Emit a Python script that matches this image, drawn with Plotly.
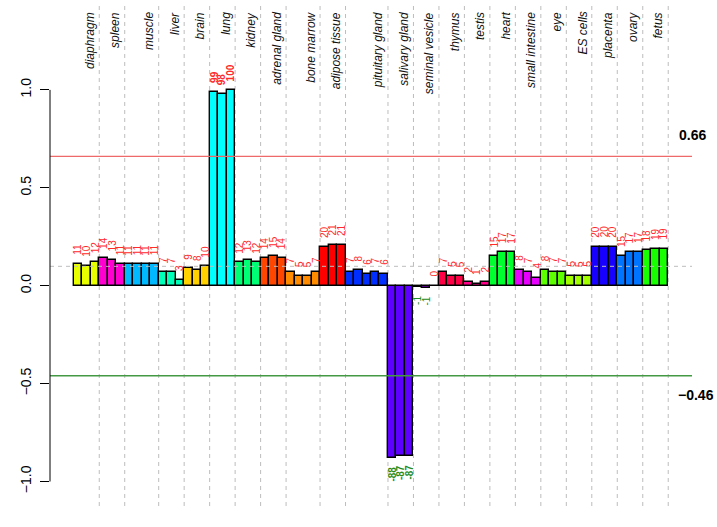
import plotly.graph_objects as go

tissues = ["diaphragm", "spleen", "muscle", "liver", "brain", "lung", "kidney",
           "adrenal gland", "bone marrow", "adipose tissue", "pituitary gland",
           "salivary gland", "seminal vesicle", "thymus", "testis", "heart",
           "small intestine", "eye", "ES cells", "placenta", "ovary", "fetus"]

tissue_values = [
    [0.11, 0.10, 0.12],
    [0.14, 0.13, 0.11],
    [0.11, 0.11, 0.11, 0.11],
    [0.07, 0.07, 0.03],
    [0.09, 0.08, 0.10],
    [0.99, 0.98, 1.00],
    [0.12, 0.13, 0.12],
    [0.14, 0.15, 0.14],
    [0.07, 0.05, 0.05, 0.07],
    [0.20, 0.21, 0.21],
    [0.07, 0.08, 0.06, 0.07, 0.06],
    [-0.88, -0.87, -0.87],
    [-0.006, -0.012, 0.0],
    [0.07, 0.05, 0.05],
    [0.02, 0.01, 0.02],
    [0.15, 0.17, 0.17],
    [0.08, 0.07, 0.04],
    [0.08, 0.07, 0.07],
    [0.05, 0.05, 0.05],
    [0.20, 0.20, 0.20],
    [0.15, 0.17, 0.17],
    [0.18, 0.19, 0.19],
]

tissue_colors = ["#E8FF00", "#FF00D1", "#00B9FF", "#00FFB9", "#FFD100", "#00FFFF",
                 "#00FF74", "#FF4600", "#FF8B00", "#FF0000", "#002EFF", "#5D00FF",
                 "#A200FF", "#FF0046", "#FF008B", "#00FF2E", "#E800FF", "#5DFF00",
                 "#A2FF00", "#1700FF", "#0074FF", "#17FF00"]

upper_threshold = 0.66
lower_threshold = -0.46
mean_level = 0.099
y_ticks = [-1.0, -0.5, 0.0, 0.5, 1.0]
y_tick_labels = ["\u22121.0", "\u22120.5", "0.0", "0.5", "1.0"]

# build bar table
xs, ys, cols, group_ends = [], [], [], []
i = 0
for vals, col in zip(tissue_values, tissue_colors):
    for v in vals:
        xs.append(i)
        ys.append(v)
        cols.append(col)
        i += 1
    group_ends.append(i - 0.5)
n = len(xs)
xlo, xhi = -0.5 - 0.04 * n, n - 0.5 + 0.04 * n

fig = go.Figure()
fig.add_trace(go.Bar(x=xs, y=ys, width=1.0,
                     marker=dict(color=cols, line=dict(color="black", width=1.4)),
                     hoverinfo="skip", showlegend=False))

shapes = []
for ge in group_ends:
    shapes.append(dict(type="line", xref="x", yref="paper", x0=ge, x1=ge, y0=0, y1=1,
                       line=dict(color="#BDBDBD", width=1, dash="4px,4px"), layer="below"))
shapes.append(dict(type="line", xref="paper", yref="y", x0=0, x1=1, y0=mean_level, y1=mean_level,
                   line=dict(color="#BDBDBD", width=1, dash="4px,4px"), layer="above"))
shapes.append(dict(type="line", xref="paper", yref="y", x0=0, x1=1,
                   y0=upper_threshold, y1=upper_threshold,
                   line=dict(color="#EE6A6A", width=1.3), layer="above"))
shapes.append(dict(type="line", xref="paper", yref="y", x0=0, x1=1,
                   y0=lower_threshold, y1=lower_threshold,
                   line=dict(color="#449944", width=1.3), layer="above"))
# axis line from -1 to 1
shapes.append(dict(type="line", xref="paper", yref="y", x0=0, x1=0, y0=-1, y1=1,
                   line=dict(color="black", width=1), layer="above"))

annotations = []
for name, ge in zip(tissues, group_ends):
    annotations.append(dict(x=ge - 1.15, y=1, xref="x", yref="paper", yshift=-5,
                            text="<i>" + name + "</i>", textangle=-90, showarrow=False,
                            xanchor="center", yanchor="top",
                            font=dict(size=12, color="#111111")))
for x, v in zip(xs, ys):
    lab = str(int(round(v * 100)))
    bold = v > upper_threshold or v < lower_threshold
    txt = "<b>" + lab + "</b>" if bold else lab
    if v >= 0:
        annotations.append(dict(x=x, y=v + 0.035, xref="x", yref="y", text=txt,
                                textangle=-90, showarrow=False, xanchor="center",
                                yanchor="bottom", font=dict(size=10, color="#FF2A2A")))
    else:
        annotations.append(dict(x=x, y=v - 0.035, xref="x", yref="y", text=txt,
                                textangle=-90, showarrow=False, xanchor="center",
                                yanchor="top", font=dict(size=10, color="#228B22")))
annotations.append(dict(x=xhi, y=upper_threshold, xref="x", yref="y", yshift=21,
                        text="<b>0.66</b>", showarrow=False, xanchor="center",
                        yanchor="middle", font=dict(size=14, color="black")))
annotations.append(dict(x=xhi, y=lower_threshold, xref="x", yref="y", yshift=-19, xshift=4,
                        text="<b>\u22120.46</b>", showarrow=False, xanchor="center",
                        yanchor="middle", font=dict(size=14, color="black")))

top_px, bot_px = 5, 506
zero_px, unit_px = 285.7, 195.8
y_top = (zero_px - top_px) / unit_px
y_bot = (zero_px - bot_px) / unit_px

fig.update_layout(
    width=717, height=527,
    margin=dict(l=50, r=25, t=top_px, b=527 - bot_px, pad=0),
    paper_bgcolor="white", plot_bgcolor="white",
    font=dict(family="Liberation Sans, Arial, Helvetica, sans-serif", color="black"),
    bargap=0,
    xaxis=dict(range=[xlo, xhi], showticklabels=False, showgrid=False, zeroline=False,
               showline=False, ticks=""),
    yaxis=dict(range=[y_bot, y_top], tickvals=y_ticks, ticktext=y_tick_labels,
               tickangle=-90, ticks="outside", ticklen=9, tickcolor="black", tickwidth=1,
               ticklabelstandoff=3, automargin=False,
               showgrid=False, zeroline=False, showline=False,
               tickfont=dict(size=14, color="black")),
    shapes=shapes, annotations=annotations,
)

fig.write_html("out.html", config={"displayModeBar": False},
               post_script="document.body.style.margin='0px';document.body.style.overflow='hidden';")
